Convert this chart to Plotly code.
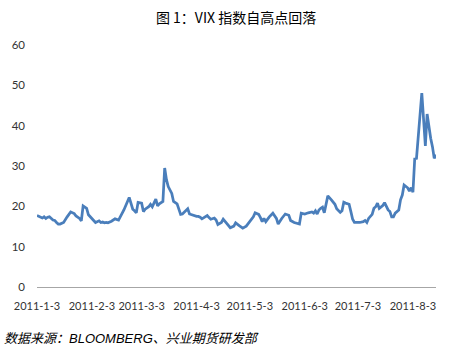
import plotly.graph_objects as go

dates = [
    "2011-01-03", "2011-01-05", "2011-01-06", "2011-01-07", "2011-01-08", "2011-01-09",
    "2011-01-10", "2011-01-12", "2011-01-13", "2011-01-14", "2011-01-15", "2011-01-16",
    "2011-01-18", "2011-01-20", "2011-01-22", "2011-01-24", "2011-01-25", "2011-01-27",
    "2011-01-28", "2011-01-29", "2011-01-30", "2011-01-31", "2011-02-01", "2011-02-03",
    "2011-02-05", "2011-02-07", "2011-02-08", "2011-02-09", "2011-02-10", "2011-02-11",
    "2011-02-12", "2011-02-14", "2011-02-16", "2011-02-18", "2011-02-21", "2011-02-24",
    "2011-02-26", "2011-02-27", "2011-02-28", "2011-03-01", "2011-03-03", "2011-03-04",
    "2011-03-05", "2011-03-07", "2011-03-08", "2011-03-09", "2011-03-11", "2011-03-12",
    "2011-03-13", "2011-03-15", "2011-03-16", "2011-03-17", "2011-03-18", "2011-03-20",
    "2011-03-21", "2011-03-23", "2011-03-24", "2011-03-25", "2011-03-26", "2011-03-27",
    "2011-03-29", "2011-03-30", "2011-03-31", "2011-04-01", "2011-04-03", "2011-04-04",
    "2011-04-05", "2011-04-06", "2011-04-08", "2011-04-09", "2011-04-10", "2011-04-11",
    "2011-04-13", "2011-04-14", "2011-04-15", "2011-04-17", "2011-04-18", "2011-04-20",
    "2011-04-22", "2011-04-24", "2011-04-25", "2011-04-27", "2011-04-29", "2011-05-01",
    "2011-05-03", "2011-05-05", "2011-05-06", "2011-05-08", "2011-05-09", "2011-05-10",
    "2011-05-11", "2011-05-12", "2011-05-14", "2011-05-16", "2011-05-18", "2011-05-19",
    "2011-05-21", "2011-05-23", "2011-05-25", "2011-05-26", "2011-05-28", "2011-05-30",
    "2011-05-31", "2011-06-01", "2011-06-03", "2011-06-05", "2011-06-07", "2011-06-08",
    "2011-06-09", "2011-06-10", "2011-06-11", "2011-06-12", "2011-06-13", "2011-06-14",
    "2011-06-16", "2011-06-18", "2011-06-20", "2011-06-21", "2011-06-23", "2011-06-24",
    "2011-06-25", "2011-06-26", "2011-06-28", "2011-06-29", "2011-06-30", "2011-07-01",
    "2011-07-04", "2011-07-06", "2011-07-07", "2011-07-08", "2011-07-09", "2011-07-11",
    "2011-07-12", "2011-07-13", "2011-07-14", "2011-07-15", "2011-07-17", "2011-07-18",
    "2011-07-20", "2011-07-21", "2011-07-22", "2011-07-23", "2011-07-24", "2011-07-26",
    "2011-07-27", "2011-07-28", "2011-07-29", "2011-07-31", "2011-08-01", "2011-08-02",
    "2011-08-03", "2011-08-04", "2011-08-05", "2011-08-08", "2011-08-10", "2011-08-11",
    "2011-08-12", "2011-08-13", "2011-08-14", "2011-08-15", "2011-08-16",
]

vix = [
    17.7, 17.3, 17.1, 17.4, 17.0, 17.3,
    17.4, 16.6, 16.5, 16.0, 15.6, 15.6,
    16.0, 17.4, 18.6, 18.2, 17.6, 17.0,
    16.4, 20.1, 19.8, 19.5, 17.9, 17.0,
    16.0, 16.4, 16.0, 16.1, 15.9, 16.0,
    15.9, 16.3, 16.9, 16.6, 19.1, 22.2,
    19.3, 18.9, 18.4, 21.0, 20.8, 18.7,
    19.3, 19.9, 20.5, 19.9, 21.8, 20.1,
    20.6, 21.2, 29.5, 26.6, 24.9, 23.2,
    21.2, 20.6, 19.3, 18.0, 18.1, 18.6,
    19.4, 18.1, 17.9, 17.7, 17.5, 17.5,
    17.3, 16.9, 17.3, 17.7, 17.2, 16.8,
    17.1, 16.6, 15.5, 16.0, 16.8, 15.6,
    14.7, 15.1, 15.9, 15.2, 14.6, 15.1,
    16.2, 17.4, 18.4, 18.0, 17.2, 16.2,
    17.0, 16.2, 17.4, 18.3, 17.0, 15.6,
    17.0, 18.1, 17.8, 16.5, 16.0, 15.8,
    15.6, 18.3, 18.1, 18.4, 18.6, 18.3,
    18.9, 18.1, 19.1, 19.5, 19.8, 18.4,
    22.6, 21.6, 20.5, 19.4, 18.5, 18.9,
    21.0, 20.8, 20.5, 18.7, 16.8, 16.0,
    16.0, 16.2, 16.5, 16.0, 17.0, 18.0,
    19.5, 19.9, 20.8, 19.5, 20.2, 20.9,
    19.1, 18.7, 17.4, 17.4, 18.3, 19.1,
    21.6, 22.8, 25.3, 24.6, 23.8, 24.6,
    23.5, 31.8, 31.9, 48.1, 35.0, 42.9,
    39.4, 36.9, 34.8, 31.9, 32.8,
]

tick_dates = ["2011-01-03", "2011-02-03", "2011-03-03", "2011-04-03",
              "2011-05-03", "2011-06-03", "2011-07-03", "2011-08-03"]
tick_labels = ["2011-1-3", "2011-2-3", "2011-3-3", "2011-4-3",
               "2011-5-3", "2011-6-3", "2011-7-3", "2011-8-3"]
y_ticks = [0, 10, 20, 30, 40, 50, 60]

title_text = "图 1：VIX 指数自高点回落"
source_text = "数据来源：BLOOMBERG、兴业期货研发部"

fig = go.Figure()
fig.add_trace(go.Scatter(
    x=dates, y=vix, mode="lines",
    line=dict(color="#4A7EBB", width=2.75),
    showlegend=False, hoverinfo="skip",
))

fig.update_layout(
    width=454, height=352,
    margin=dict(l=35, r=18, t=45, b=65),
    paper_bgcolor="white", plot_bgcolor="white",
    font=dict(family="Lato, 'Noto Sans CJK SC', sans-serif", size=11, color="#333333"),
    title=dict(
        text=title_text, x=0.52, xanchor="center", y=1 - 18 / 352, yanchor="middle",
        font=dict(family="'Noto Sans CJK SC', sans-serif", size=14, color="#000000"),
    ),
    xaxis=dict(
        type="date",
        range=[dates[0], dates[-1]],
        tickmode="array", tickvals=tick_dates, ticktext=tick_labels,
        tickangle=0,
        showgrid=False, zeroline=False,
        showline=True, linecolor="#A6A6A6", linewidth=1,
        ticks="", ticklabelstandoff=9,
        tickfont=dict(size=11, color="#333333"),
    ),
    yaxis=dict(
        range=[0, 60], tickmode="array", tickvals=y_ticks,
        showgrid=False, zeroline=False, showline=False,
        ticks="", ticklabelstandoff=11,
        tickfont=dict(size=11.5, color="#333333"),
    ),
    annotations=[dict(
        text="<i>" + source_text + "</i>",
        xref="paper", yref="paper", x=-35 / 401, y=-(338 - 287) / 242,
        xanchor="left", yanchor="middle", showarrow=False,
        font=dict(family="'Liberation Sans', 'Noto Sans CJK SC', sans-serif", size=13, color="#000000"),
    )],
)

fig.write_html("out.html")
